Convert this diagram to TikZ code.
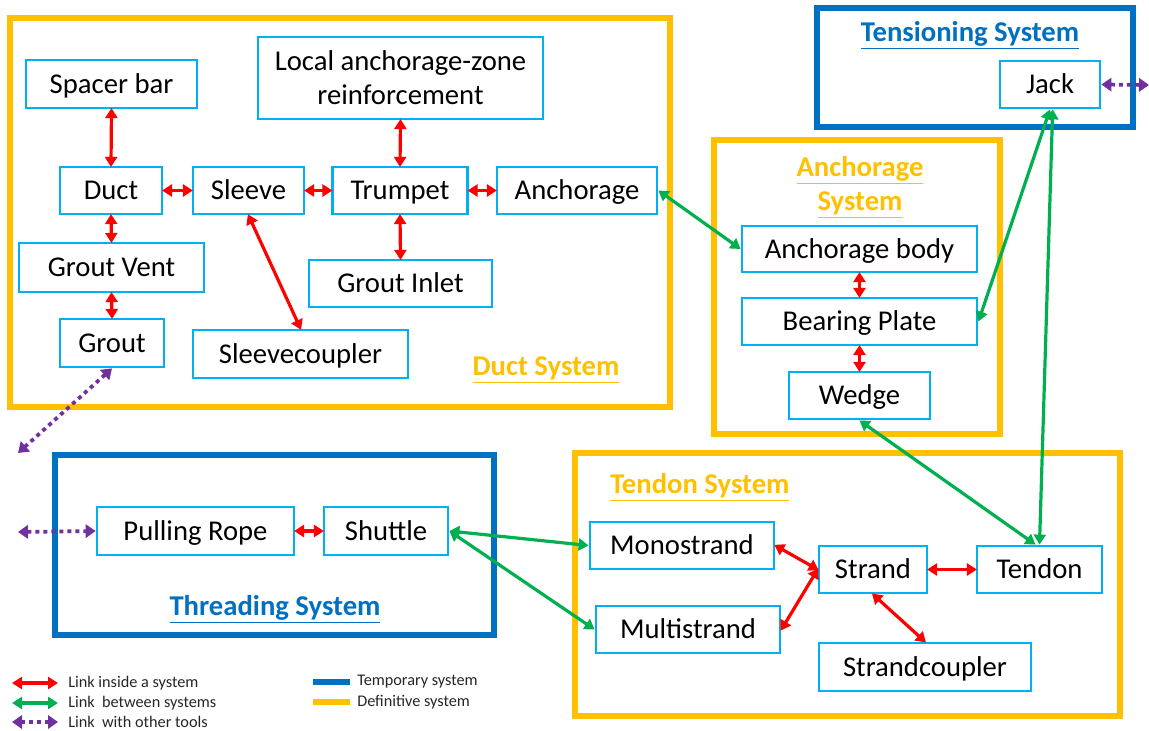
\documentclass[tikz,border=0pt]{standalone}
\usepackage{fontspec}
\setmainfont{Carlito}
\usetikzlibrary{arrows.meta}
\definecolor{boxblue}{HTML}{00B0F0}
\definecolor{sysblue}{HTML}{0070C0}
\definecolor{sysyellow}{HTML}{FFC000}
\definecolor{lred}{HTML}{FF0000}
\definecolor{lgreen}{HTML}{00B050}
\definecolor{lpurple}{HTML}{7030A0}
\definecolor{legtext}{HTML}{262626}
\tikzset{
  sz/.style 2 args={minimum width=#1*0.75pt, minimum height=#2*0.75pt},
  box/.style={draw=boxblue, line width=2.1pt, fill=white, inner sep=0pt, align=center,
    font=\fontsize{21.5}{25}\selectfont, text=black, text height=14pt, text depth=0pt},
  sysY/.style={draw=sysyellow, line width=3.8pt},
  sysB/.style={draw=sysblue, line width=3.8pt},
  ytitle/.style={font=\fontsize{21.5}{25}\selectfont\bfseries, text=sysyellow, align=center, inner sep=0pt},
  btitle/.style={font=\fontsize{21.5}{25}\selectfont\bfseries, text=sysblue, align=center, inner sep=0pt},
  redl/.style={draw=lred, line width=2.4pt, {Triangle[length=7.5pt,width=9pt]}-{Triangle[length=7.5pt,width=9pt]}, shorten <=-1pt, shorten >=-1pt},
  greenl/.style={draw=lgreen, line width=2.4pt, {Triangle[length=7.5pt,width=9pt]}-{Triangle[length=7.5pt,width=9pt]}},
  purpl/.style={draw=lpurple, line width=2.8pt, dash pattern=on 3pt off 3pt, {Triangle[length=7.5pt,width=10pt]}-{Triangle[length=7.5pt,width=10pt]}},
  legt/.style={font=\fontsize{12.2}{14}\selectfont, text=legtext, anchor=west, inner sep=0pt},
}
\begin{document}
\begin{tikzpicture}[x=0.75pt, y=-0.75pt]
\useasboundingbox (0,0) rectangle (1149,731);

% system frames
\draw[sysY] (10,18) rectangle (670,407);
\draw[sysB] (817,8) rectangle (1133,127);
\draw[sysY] (714,140) rectangle (1000,434);
\draw[sysB] (55,455) rectangle (494,635);
\draw[sysY] (575,453) rectangle (1120,716);

% titles
\node[ytitle] (tduct) at (546,370) {\underline{Duct System}};
\node[btitle] (tten) at (970,35) {\underline{Tensioning System}};
\node[ytitle] (tanc1) at (860,170) {\underline{Anchorage}};
\node[ytitle] (tanc2) at (860,205) {\underline{System}};
\node[btitle] (tthr) at (275,609) {\underline{Threading System}};
\node[ytitle, anchor=west] (ttend) at (610,487) {\underline{Tendon System}};

% duct system
\node[box, sz={171}{48}] (spacer) at (111.5,84) {Spacer bar};
\node[box, sz={285}{82}, font=\fontsize{21.5}{25.5}\selectfont, text height=, text depth=] (local) at (400.5,78) {Local anchorage-zone\\reinforcement};
\node[box, sz={102}{47}] (duct) at (111,190.5) {Duct};
\node[box, sz={111}{47}] (sleeve) at (248.5,190.5) {Sleeve};
\node[box, sz={135}{47}] (trumpet) at (400,190.5) {Trumpet};
\node[box, sz={160}{47}] (anch) at (577,190.5) {Anchorage};
\node[box, sz={185}{49}] (gvent) at (111.5,267.5) {Grout Vent};
\node[box, sz={183}{47}] (ginlet) at (400.5,283.5) {Grout Inlet};
\node[box, sz={104}{48}] (grout) at (112,343) {Grout};
\node[box, sz={215}{48}] (sleevec) at (300.5,354) {Sleevecoupler};

% tensioning
\node[box, sz={100}{47}] (jack) at (1050,84.5) {Jack};

% anchorage system
\node[box, sz={235}{46}] (abody) at (859.5,249) {Anchorage body};
\node[box, sz={235}{47}] (bplate) at (859.5,321.5) {Bearing Plate};
\node[box, sz={141}{47}] (wedge) at (859.5,395.5) {Wedge};

% threading
\node[box, sz={197}{48}] (rope) at (195.5,531) {Pulling Rope};
\node[box, sz={124}{48}] (shuttle) at (386,531) {Shuttle};

% tendon system
\node[box, sz={184}{47}] (mono) at (682,545.5) {Monostrand};
\node[box, sz={184}{47}] (multi) at (688,629.5) {Multistrand};
\node[box, sz={108}{47}] (strand) at (873,569.5) {Strand};
\node[box, sz={125}{47}] (tendon) at (1039.5,569.5) {Tendon};
\node[box, sz={212}{48}] (scoup) at (925,667) {Strandcoupler};

% red links
\draw[redl] (spacer.south) -- (duct.north);
\draw[redl] (duct.east) -- (sleeve.west);
\draw[redl] (sleeve.east) -- (trumpet.west);
\draw[redl] (trumpet.east) -- (anch.west);
\draw[redl] (local.south) -- (trumpet.north);
\draw[redl] (trumpet.south) -- (ginlet.north);
\draw[redl] (duct.south) -- (gvent.north);
\draw[redl] (gvent.south) -- (grout.north);
\draw[redl] (sleeve.south) -- (sleevec.north);
\draw[redl] (abody.south) -- (bplate.north);
\draw[redl] (bplate.south) -- (wedge.north);
\draw[redl] (rope.east) -- (shuttle.west);
\draw[redl] (mono.east) -- (strand.west);
\draw[redl] (multi.east) -- (strand.west);
\draw[redl] (strand.east) -- (tendon.west);
\draw[redl] (strand.south) -- (scoup.north);

% green links
\draw[greenl] (anch.east) -- (abody.west);
\draw[greenl] (jack.south) -- (bplate.east);
\draw[greenl] ([xshift=2pt]jack.south) -- (tendon.north);
\draw[greenl] (wedge.south) -- ([xshift=-3pt]tendon.north);
\draw[greenl] (shuttle.east) -- (mono.west);
\draw[greenl] (shuttle.east) -- (multi.west);

% purple links
\coordinate (pgrout) at (18,453);
\coordinate (prope) at (18,532);
\coordinate (pjack) at (1149,85);
\draw[purpl] (grout.south) -- (pgrout);
\draw[purpl] (prope) -- (rope.west);
\draw[purpl] (jack.east) -- (pjack);

% legend
\coordinate (lr1) at (12,683); \coordinate (lr2) at (58,683);
\coordinate (lg1) at (12,703); \coordinate (lg2) at (58,703);
\coordinate (lp1) at (12,722); \coordinate (lp2) at (58,722);
\draw[redl, shorten <=0pt, shorten >=0pt] (lr1) -- (lr2);
\draw[greenl] (lg1) -- (lg2);
\draw[purpl] (lp1) -- (lp2);
\node[legt] (leg1) at (68,683) {Link inside a system};
\node[legt] (leg2) at (68,703) {Link\ \ between systems};
\node[legt] (leg3) at (68,722) {Link\ \ with other tools};
\coordinate (lb1) at (313,682); \coordinate (lb2) at (350,682);
\coordinate (ly1) at (313,702); \coordinate (ly2) at (350,702);
\draw[draw=sysblue, line width=4pt] (lb1) -- (lb2);
\draw[draw=sysyellow, line width=4pt] (ly1) -- (ly2);
\node[legt] (leg4) at (357,682) {Temporary system};
\node[legt] (leg5) at (357,702) {Definitive system};
\end{tikzpicture}
\end{document}
